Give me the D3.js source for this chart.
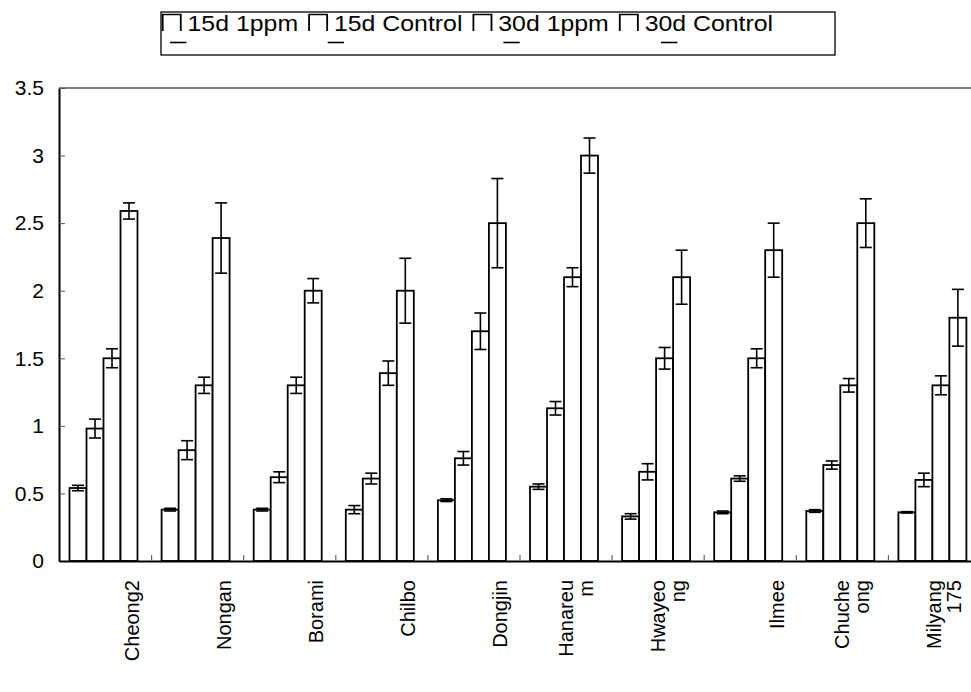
<!DOCTYPE html>
<html>
<head>
<meta charset="utf-8">
<script src="https://cdn.jsdelivr.net/npm/d3@7"></script>
<style>
  html, body { margin: 0; padding: 0; background: #fff; }
  svg { display: block; }
  text { font-family: "Liberation Sans", Arial, sans-serif; fill: #000; }
</style>
</head>
<body>
<svg id="chart" width="971" height="692"></svg>
<script>
// ---- data ----
const categories = ["Cheong2","Nongan","Borami","Chilbo","Dongjin","Hanareum","Hwayeong","Ilmee","Chucheong","Milyang175"];
const tickLabelLines = [["Cheong2"],["Nongan"],["Borami"],["Chilbo"],["Dongjin"],["Hanareu","m"],["Hwayeo","ng"],["Ilmee"],["Chuche","ong"],["Milyang","175"]];
const seriesNames = ["15d 1ppm","15d Control","30d 1ppm","30d Control"];
const v15d1ppm    = [0.54,0.38,0.38,0.38,0.45,0.55,0.33,0.36,0.37,0.36];
const v15dControl = [0.98,0.82,0.62,0.61,0.76,1.13,0.66,0.61,0.71,0.60];
const v30d1ppm    = [1.50,1.30,1.30,1.39,1.70,2.10,1.50,1.50,1.30,1.30];
const v30dControl = [2.59,2.39,2.00,2.00,2.50,3.00,2.10,2.30,2.50,1.80];
const e15d1ppm    = [0.02,0.01,0.01,0.03,0.01,0.02,0.02,0.01,0.01,0.005];
const e15dControl = [0.07,0.07,0.04,0.04,0.05,0.05,0.06,0.02,0.03,0.05];
const e30d1ppm    = [0.07,0.06,0.06,0.09,0.135,0.07,0.08,0.07,0.05,0.07];
const e30dControl = [0.06,0.26,0.09,0.24,0.33,0.13,0.20,0.20,0.18,0.21];
const yTicks = [0,0.5,1,1.5,2,2.5,3,3.5];
const yTickLabels = ["0","0.5","1","1.5","2","2.5","3","3.5"];

const seriesValues = [v15d1ppm, v15dControl, v30d1ppm, v30dControl];
const seriesErrors = [e15d1ppm, e15dControl, e30d1ppm, e30dControl];

// ---- layout ----
const svg = d3.select("#chart");
const plotLeft = 59, plotTop = 88, plotBottom = 561;
const groupW = 92.1;
const plotRight = plotLeft + groupW * categories.length;

const x = d3.scaleBand().domain(categories).range([plotLeft, plotRight]).paddingInner(0).paddingOuter(0);
const xInner = d3.scaleBand().domain(seriesNames).range([10.5, 10.5 + 4 * 17]).padding(0);
const y = d3.scaleLinear().domain([0, 3.5]).range([plotBottom, plotTop]);

// plot-area top border (gray)
svg.append("line")
  .attr("x1", plotLeft).attr("x2", 971)
  .attr("y1", y(3.5)).attr("y2", y(3.5))
  .attr("stroke", "#808080").attr("stroke-width", 2);

// bars
const rows = [];
categories.forEach((c, i) => {
  seriesNames.forEach((s, j) => {
    rows.push({c, s, v: seriesValues[j][i], e: seriesErrors[j][i]});
  });
});

const g = svg.append("g");
g.selectAll("rect.bar").data(rows).join("rect")
  .attr("class", "bar")
  .attr("x", d => x(d.c) + xInner(d.s))
  .attr("y", d => y(d.v))
  .attr("width", xInner.bandwidth())
  .attr("height", d => y(0) - y(d.v))
  .attr("fill", "#fff").attr("stroke", "#000").attr("stroke-width", 1.8);

// error bars
const capW = 12;
const cxOf = d => x(d.c) + xInner(d.s) + xInner.bandwidth() / 2;
const eb = g.selectAll("g.err").data(rows).join("g").attr("class", "err")
  .attr("stroke", "#000").attr("stroke-width", 1.6);
eb.append("line")
  .attr("x1", cxOf).attr("x2", cxOf)
  .attr("y1", d => y(d.v + d.e)).attr("y2", d => y(d.v - d.e));
eb.append("line")
  .attr("x1", d => cxOf(d) - capW / 2).attr("x2", d => cxOf(d) + capW / 2)
  .attr("y1", d => y(d.v + d.e)).attr("y2", d => y(d.v + d.e));
eb.append("line")
  .attr("x1", d => cxOf(d) - capW / 2).attr("x2", d => cxOf(d) + capW / 2)
  .attr("y1", d => y(d.v - d.e)).attr("y2", d => y(d.v - d.e));

// y axis
const yAxis = d3.axisLeft(y).tickValues(yTicks)
  .tickFormat((d, i) => yTickLabels[i]).tickSize(-6).tickSizeOuter(0).tickPadding(15);
const ya = svg.append("g").attr("transform", `translate(${plotLeft},0)`).call(yAxis);
ya.select(".domain").attr("stroke", "#000").attr("stroke-width", 2);
ya.selectAll(".tick line").attr("stroke", "#555").attr("stroke-width", 1);
ya.selectAll(".tick text").attr("font-size", 21).attr("font-family", "Liberation Sans, Arial, sans-serif").attr("fill", "#000");

// x axis (category separators)
const xIdx = d3.scaleLinear().domain([0, categories.length]).range([plotLeft, plotRight]);
const xAxis = d3.axisBottom(xIdx).tickValues(d3.range(1, categories.length))
  .tickSize(-6).tickSizeOuter(0).tickFormat("");
const xa = svg.append("g").attr("transform", `translate(0,${plotBottom})`).call(xAxis);
xa.select(".domain").attr("stroke", "#000").attr("stroke-width", 2);
xa.selectAll(".tick line").attr("stroke", "#666").attr("stroke-width", 1.2);

// category labels (rotated)
const lab = svg.append("g").selectAll("text").data(categories).join("text")
  .attr("font-size", 20)
  .attr("text-anchor", "end")
  .attr("transform", (d, i) => {
    const n = tickLabelLines[i].length;
    const cx = x(d) + x.bandwidth() / 2 + (n === 1 ? 27 : 0);
    return `translate(${cx},580) rotate(-90)`;
  });
lab.each(function(d, i) {
  const t = d3.select(this);
  tickLabelLines[i].forEach((line, k) => {
    t.append("tspan").attr("x", 0).attr("dy", k === 0 ? "0.35em" : "1.0em").text(line);
  });
});

// legend
const legX = 161, legY = 12, legW = 674, legH = 43;
svg.append("rect").attr("x", legX).attr("y", legY).attr("width", legW).attr("height", legH)
  .attr("fill", "#fff").attr("stroke", "#000").attr("stroke-width", 1.3);
const legG = svg.append("g").attr("transform", `translate(${legX},0) scale(1.13,1)`);
let cursor = 1.5;
seriesNames.forEach((name, i) => {
  const sx = cursor;
  legG.append("path")
    .attr("d", `M${sx},31 V14.5 H${sx + 16} V31`)
    .attr("fill", "none").attr("stroke", "#000").attr("stroke-width", 1.6);
  legG.append("line")
    .attr("x1", sx + 6.5 + 10 * i).attr("x2", sx + 21 + 10 * i)
    .attr("y1", 42.5).attr("y2", 42.5)
    .attr("stroke", "#000").attr("stroke-width", 1.6);
  const t = legG.append("text").attr("x", sx + 22).attr("y", 31)
    .attr("font-size", 22).text(name);
  cursor = sx + 22 + t.node().getComputedTextLength() + 9.7;
});
</script>
</body>
</html>
